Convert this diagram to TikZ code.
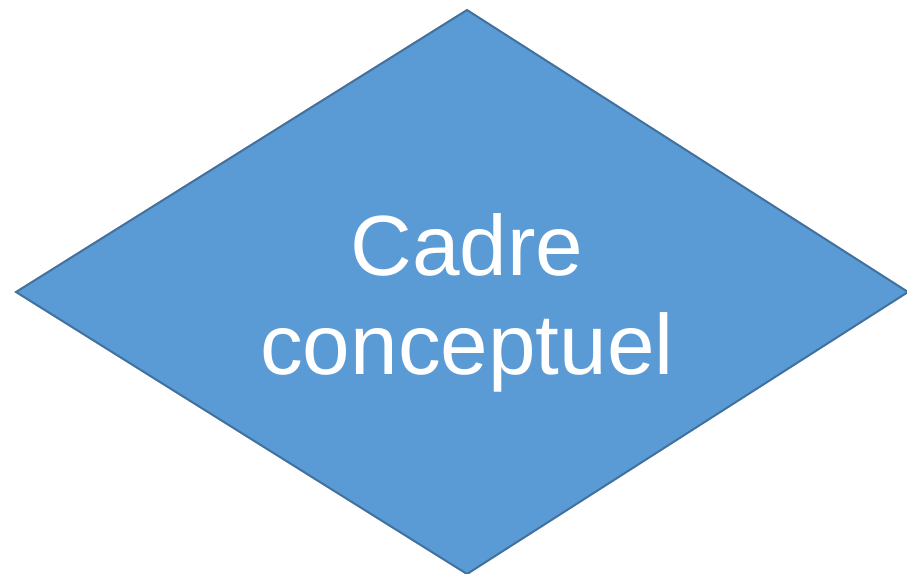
\documentclass[tikz,border=0pt]{standalone}
\usepackage{fontspec}
\setmainfont{Liberation Sans}
\definecolor{dfill}{HTML}{5B9BD5}
\definecolor{dline}{HTML}{41719C}
\begin{document}
\begin{tikzpicture}[x=1pt,y=-1pt,
  shapeline/.style={draw=dline,fill=dfill,line width=2pt,line join=miter},
  bigtext/.style={text=white,font=\fontsize{85.5}{100}\selectfont,inner sep=0pt,anchor=base}]
\useasboundingbox (0,0) rectangle (907,573);
\clip (0,0) rectangle (907,573);
\coordinate (top) at (467,10);
\coordinate (left) at (16,292);
\coordinate (right) at (908,292);
\coordinate (bottom) at (467,574);
\draw[shapeline] (top) -- (right) -- (bottom) -- (left) -- cycle;
\node[bigtext] (l1) at (467,275) {Cadre};
\node[bigtext] (l2) at (467,374) {conceptuel};
\end{tikzpicture}
\end{document}
